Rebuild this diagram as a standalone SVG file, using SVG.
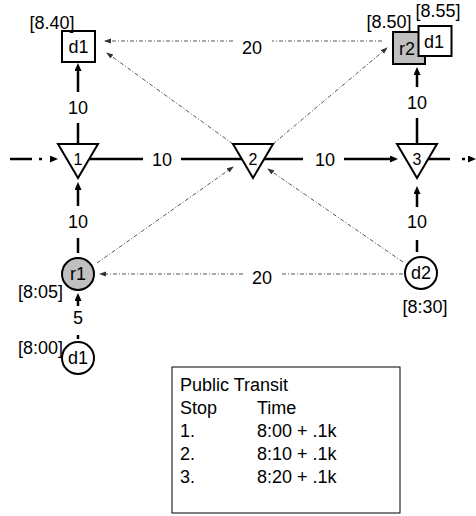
<svg xmlns="http://www.w3.org/2000/svg" width="476" height="516" viewBox="0 0 476 516">
<style>
text{font-family:"Liberation Sans",Arial,sans-serif;font-size:18px;fill:#000}
.c{text-anchor:middle}
.e{text-anchor:end}
.solid{stroke:#000;stroke-width:2.5;fill:none}
.dot{stroke:#555;stroke-width:1;fill:none;stroke-dasharray:4 2 1 2}
.node{stroke:#000;stroke-width:2;fill:#fff}
.gray{fill:#c0c0c0}
</style>
<defs>
<marker id="ah" markerUnits="userSpaceOnUse" markerWidth="9" markerHeight="8" refX="0" refY="3.5" orient="auto">
<path d="M0,0 L8,3.5 L0,7 z" fill="#000"/>
</marker>
<marker id="ad" markerUnits="userSpaceOnUse" markerWidth="8" markerHeight="6" refX="6" refY="2.5" orient="auto">
<path d="M0,0 L7,2.5 L0,5 z" fill="#333"/>
</marker>
</defs>
<rect width="476" height="516" fill="#fff"/>
<g id="connectors">
<!-- main horizontal line -->
<path class="solid" d="M10,159 L50,159" stroke-dasharray="22 7 3 8" marker-end="url(#ah)"/>
<path class="solid" d="M78,159 L143,159"/>
<path class="solid" d="M181,159 L253,159"/>
<path class="solid" d="M253,159 L303,159"/>
<path class="solid" d="M344,159 L390,159" marker-end="url(#ah)"/>
<path class="solid" d="M417,159 L468,159" stroke-dasharray="33 12 3 3" marker-end="url(#ah)"/>
<!-- left column -->
<path class="solid" d="M78,144 L78,123"/>
<path class="solid" d="M78,92 L78,71" marker-end="url(#ah)"/>
<path class="solid" d="M78,253 L78,238"/>
<path class="solid" d="M78,206 L78,190" marker-end="url(#ah)"/>
<path class="solid" d="M78,306 L78,301" marker-end="url(#ah)"/>
<path class="solid" d="M78,339 L78,335"/>
<!-- right column -->
<path class="solid" d="M417,144 L417,118"/>
<path class="solid" d="M417,87 L417,75" marker-end="url(#ah)"/>
<path class="solid" d="M417,252 L417,240"/>
<path class="solid" d="M417,207 L417,194" marker-end="url(#ah)"/>
<!-- dotted connectors -->
<path class="dot" d="M382,41 L272,41"/>
<path class="dot" d="M233,41 L105,41" marker-end="url(#ad)"/>
<path class="dot" d="M233,144 L107,53" marker-end="url(#ad)"/>
<path class="dot" d="M273,144 L387,48" marker-end="url(#ad)"/>
<path class="dot" d="M97,263 L233,167" marker-end="url(#ad)"/>
<path class="dot" d="M403,262 L268,169" marker-end="url(#ad)"/>
<path class="dot" d="M403,274 L281,274"/>
<path class="dot" d="M243,274 L100,274" marker-end="url(#ad)"/>
<!-- edge labels -->
<text class="c" x="162" y="166">10</text>
<text class="c" x="325" y="166">10</text>
<text class="c" x="78" y="114">10</text>
<text class="c" x="78" y="228">10</text>
<text class="c" x="78" y="324">5</text>
<text class="c" x="417" y="109">10</text>
<text class="c" x="417" y="228">10</text>
<text class="c" x="252" y="54">20</text>
<text class="c" x="262" y="284">20</text>
</g>
<g id="t1">
<polygon class="node" points="58,144 98,144 78,178"/>
<text class="c" x="78" y="165" style="font-size:16px">1</text>
</g>
<g id="t2">
<polygon class="node" points="233,144 273,144 253,178"/>
<text class="c" x="253" y="165" style="font-size:16px">2</text>
</g>
<g id="t3">
<polygon class="node" points="397,144 437,144 417,178"/>
<text class="c" x="417" y="165" style="font-size:16px">3</text>
</g>
<g id="d1-top">
<rect class="node" x="62" y="31" width="33" height="31"/>
<text class="c" x="78.5" y="53">d1</text>
<text class="c" x="52" y="29">[8.40]</text>
</g>
<g id="r2">
<rect class="node gray" x="393" y="32" width="32" height="32"/>
<text class="c" x="407" y="55">r2</text>
<text class="c" x="389" y="28">[8.50]</text>
</g>
<g id="d1-right">
<rect class="node" x="418.5" y="26" width="33" height="30"/>
<text class="c" x="434" y="48">d1</text>
<text class="c" x="438" y="17">[8.55]</text>
</g>
<g id="r1">
<circle class="node gray" cx="78" cy="274" r="16"/>
<text class="c" x="78" y="280">r1</text>
<text class="e" x="63" y="298">[8:05]</text>
</g>
<g id="d1-bottom">
<circle class="node" cx="78" cy="358" r="16"/>
<text class="c" x="78" y="364">d1</text>
<text class="e" x="63" y="354">[8:00]</text>
</g>
<g id="d2">
<circle class="node" cx="421" cy="273" r="16"/>
<text class="c" x="421" y="279">d2</text>
<text class="c" x="425" y="313">[8:30]</text>
</g>
<g id="legend">
<rect x="172" y="367" width="228" height="146" fill="#fff" stroke="#000" stroke-width="1"/>
<text x="180" y="391">Public Transit</text>
<text x="180" y="414">Stop</text>
<text x="257" y="414">Time</text>
<text x="180" y="437">1.</text>
<text x="257" y="437">8:00 + .1k</text>
<text x="180" y="460">2.</text>
<text x="257" y="460">8:10 + .1k</text>
<text x="180" y="483">3.</text>
<text x="257" y="483">8:20 + .1k</text>
</g>
</svg>
